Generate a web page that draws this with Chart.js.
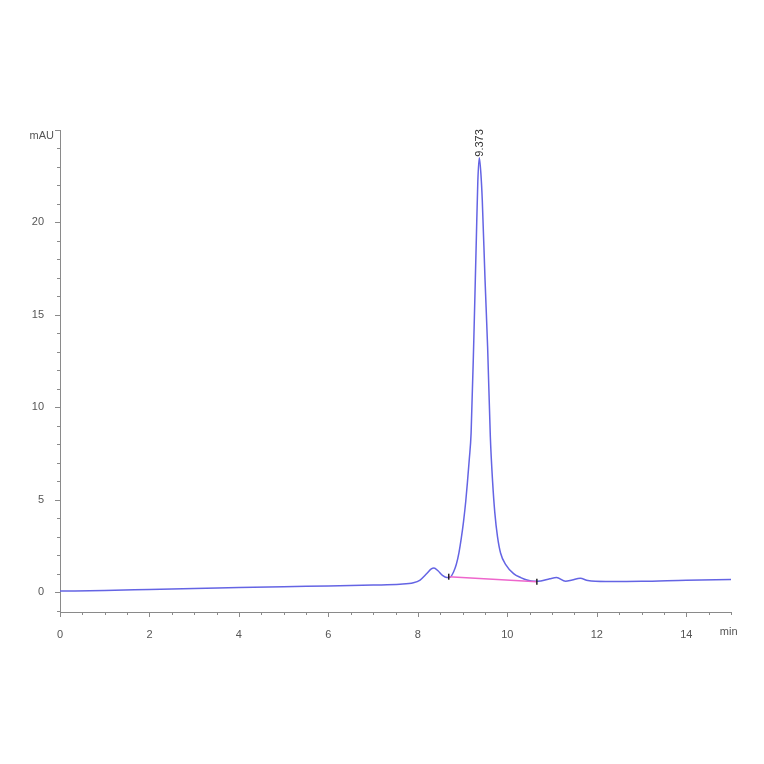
<!DOCTYPE html>
<html>
<head>
<meta charset="utf-8">
<script src="https://cdn.jsdelivr.net/npm/chart.js@4.4.0/dist/chart.umd.min.js"></script>
<style>
  html,body{margin:0;padding:0;background:#fff;}
  #wrap{width:764px;height:764px;position:relative;}
</style>
</head>
<body>
<div id="wrap"><canvas id="c" width="764" height="764"></canvas></div>
<script>
// chromatogram trace (min, mAU)
const times = [0,1,2,3,4,5,6,7,7.6,7.9,8.05,8.2,8.3,8.36,8.45,8.55,8.65,8.72,8.8,8.86,8.92,8.97,9.02,9.07,9.11,9.15,9.19,9.25,9.306,9.34,9.373,9.41,9.44,9.5,9.56,9.62,9.67,9.72,9.78,9.85,9.96,10.14,10.3,10.44,10.6,10.75,10.95,11.1,11.3,11.45,11.63,11.8,12.2,13,14,15];
const signal = [0.05,0.09,0.14,0.19,0.24,0.29,0.33,0.38,0.42,0.5,0.65,1.0,1.25,1.3,1.15,0.9,0.78,0.8,1.1,1.5,2.15,2.9,3.8,4.9,6.0,7.2,8.6,13.6,19.0,22.2,23.5,22.6,21.2,17.0,13.2,8.4,6.0,4.3,3.0,2.1,1.5,1.0,0.78,0.65,0.58,0.6,0.72,0.78,0.58,0.65,0.74,0.62,0.57,0.58,0.64,0.68];
// integration baseline under main peak
const baseTimes = [8.69,10.66];
const baseSignal = [0.83,0.56];
const peakTime = 9.373;
const peakHeight = 23.5;
const peakLabel = '9.373';
const xTicks = [0,2,4,6,8,10,12,14];
const yTicks = [0,5,10,15,20];

const axisGray = '#8a8a8a';
const textGray = '#555';

// minor ticks + unit labels + peak label
const decor = {
  id:'decor',
  afterDraw(chart){
    const {ctx, scales:{x,y}} = chart;
    ctx.save();
    ctx.strokeStyle = axisGray;
    ctx.lineWidth = 1;
    const x0 = x.getPixelForValue(0), yb = y.bottom;
    for(let t=0; t<=15.001; t+=0.5){
      const px = Math.round(x.getPixelForValue(t))+0.5;
      const len = (t%2===0) ? 5 : 3;
      ctx.beginPath(); ctx.moveTo(px, yb); ctx.lineTo(px, yb+len); ctx.stroke();
    }
    for(let v=-1; v<=25; v+=1){
      const py = Math.round(y.getPixelForValue(v))+0.5;
      const len = (v%5===0) ? 5 : 3;
      ctx.beginPath(); ctx.moveTo(x0, py); ctx.lineTo(x0-len, py); ctx.stroke();
    }
    ctx.fillStyle = textGray;
    ctx.font = '11px "Liberation Sans", Arial, sans-serif';
    ctx.textAlign = 'right'; ctx.textBaseline = 'middle';
    ctx.fillText('mAU', x0-6, y.getPixelForValue(25)+6);
    ctx.textAlign = 'left'; ctx.textBaseline = 'top';
    ctx.fillText('min', x.getPixelForValue(14.75), yb+14);
    // peak label, rotated
    ctx.translate(x.getPixelForValue(peakTime)+1, y.getPixelForValue(peakHeight)-1);
    ctx.rotate(-Math.PI/2);
    ctx.textAlign = 'left'; ctx.textBaseline = 'middle';
    ctx.fillStyle = '#333';
    ctx.fillText(peakLabel, 0, 0);
    ctx.restore();
  }
};

new Chart(document.getElementById('c'), {
  type:'scatter',
  data:{
    datasets:[
      {label:'base', data: baseTimes.map((t,i)=>({x:t,y:baseSignal[i]})), showLine:true,
       borderColor:'#ee66cc', borderWidth:1.5, pointStyle:'line', rotation:90, pointRadius:3,
       pointBorderColor:'#222', pointBorderWidth:1.5},
      {label:'trace', data: times.map((t,i)=>({x:t,y:signal[i]})), showLine:true,
       borderColor:'rgb(100,100,228)', borderWidth:1.5, pointRadius:0, cubicInterpolationMode:'monotone'}
    ]
  },
  options:{
    responsive:false, animation:false,
    layout:{padding:{left:0,right:33,top:130,bottom:122}},
    plugins:{legend:{display:false}, tooltip:{enabled:false}},
    scales:{
      x:{type:'linear', min:0, max:15,
         afterFit(s){ s.height = 30; },
         afterBuildTicks(s){ s.ticks = xTicks.map(v=>({value:v})); },
         grid:{display:false, drawOnChartArea:false},
         border:{display:true, color:axisGray, width:1},
         ticks:{color:textGray, padding:8, font:{size:11, family:'"Liberation Sans", Arial, sans-serif'}}},
      y:{type:'linear', min:-1.08, max:25,
         afterFit(s){ s.width = 60; },
         afterBuildTicks(s){ s.ticks = yTicks.map(v=>({value:v})); },
         grid:{display:false, drawOnChartArea:false},
         border:{display:true, color:axisGray, width:1},
         ticks:{color:textGray, padding:8, font:{size:11, family:'"Liberation Sans", Arial, sans-serif'}}}
    }
  },
  plugins:[decor]
});
</script>
</body>
</html>
